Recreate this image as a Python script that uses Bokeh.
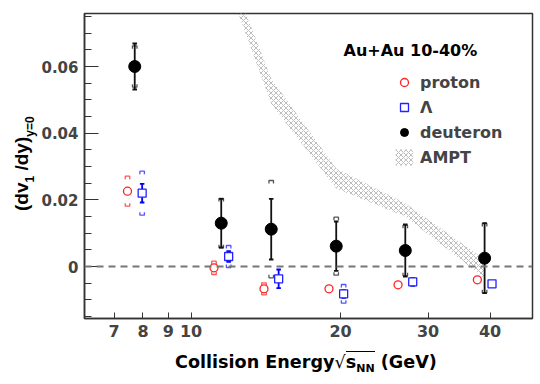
import math
from bokeh.plotting import figure
from bokeh.layouts import row, column
from bokeh.models import Label, Legend, LegendItem, FixedTicker, CustomJSTickFormatter, Span, Div
from bokeh.embed import file_html
from bokeh.resources import INLINE

# ---------------- data ----------------
energies = [7.7, 11.5, 14.5, 19.6, 27.0, 39.0]

deut_v1 = [0.0600, 0.0130, 0.0112, 0.0061, 0.0048, 0.0025]
deut_stat = [0.0069, 0.0073, 0.0091, 0.0074, 0.0078, 0.0105]
deut_sys = [0.0062, 0.0074, 0.0146, 0.0087, 0.0076, 0.0104]

prot_v1 = [0.0226, -0.0004, -0.0067, -0.0067, -0.0055, -0.0040]
prot_stat = [0.0005, 0.0008, 0.0009, 0.0005, 0.0005, 0.0006]
prot_sys = [0.0045, 0.0020, 0.0018, 0.0006, 0.0005, 0.0004]

lam_v1 = [0.0220, 0.0030, -0.0037, -0.0082, -0.0046, -0.0052]
lam_stat = [0.0028, 0.0016, 0.0028, 0.0012, 0.0012, 0.0008]
lam_sys = [0.0066, 0.0033, 0.0010, 0.0028, 0.0010, 0.0008]

ampt_e = [11.5, 14.5, 19.6, 27.0, 39.0]
ampt_hi = [0.0950, 0.0564, 0.0294, 0.0190, 0.0021]
ampt_lo = [0.0900, 0.0488, 0.0234, 0.0150, -0.0035]

x_ticks = [7, 8, 9, 10, 20, 30, 40]
y_ticks = [0.0, 0.02, 0.04, 0.06]

# ---------------- layout ----------------
X0, X1 = 6.1, 48.7
Y0, Y1 = -0.0156, 0.0759
FL, FR, FT, FB = 84, 532, 13, 318   # frame edges in page pixels
WY = 38                              # width of the y-title column
PH = 348                             # plot height

def ex(px):  # page x -> energy (log axis)
    lx0, lx1 = math.log10(X0), math.log10(X1)
    return 10 ** (lx0 + (px - FL) / (FR - FL) * (lx1 - lx0))

def vy(py):  # page y -> value
    return Y0 + (FB - py) / (FB - FT) * (Y1 - Y0)

FONT = "DejaVu Sans"

p = figure(width=FR + 2 - WY, height=PH, x_axis_type="log", x_range=(X0, X1), y_range=(Y0, Y1),
           output_backend="svg", toolbar_location=None, title=None,
           min_border_left=FL - WY, min_border_right=2, min_border_top=FT,
           min_border_bottom=PH - FB)
p.grid.visible = False
p.outline_line_color = "#333333"
p.outline_line_width = 1.5
p.background_fill_color = "white"
p.border_fill_color = "white"

# axes
xa = p.xaxis[0]
xa.ticker = FixedTicker(ticks=x_ticks, minor_ticks=[])
xa.formatter = CustomJSTickFormatter(code="return tick.toFixed(0);")
xa.major_tick_in = 6
xa.major_tick_out = 0
xa.minor_tick_in = 0
xa.minor_tick_out = 0
xa.axis_line_color = "#333333"
xa.axis_line_width = 1.5
xa.major_tick_line_color = "#333333"
xa.major_label_text_font = FONT
xa.major_label_text_font_style = "bold"
xa.major_label_text_font_size = "16px"
xa.major_label_standoff = 6

ya = p.yaxis[0]
ya.ticker = FixedTicker(ticks=y_ticks,
                        minor_ticks=[-0.015, -0.01, -0.005, 0.005, 0.01, 0.015, 0.025, 0.03,
                                     0.035, 0.045, 0.05, 0.055, 0.065, 0.07, 0.075])
ya.formatter = CustomJSTickFormatter(code="return tick == 0 ? '0' : tick.toFixed(2);")
ya.major_tick_in = 14
ya.major_tick_out = 0
ya.minor_tick_in = 7
ya.minor_tick_out = 0
ya.axis_line_color = "#333333"
ya.axis_line_width = 1.5
ya.major_tick_line_color = "#333333"
ya.minor_tick_line_color = "#333333"
ya.major_label_text_font = FONT
ya.major_label_text_font_style = "bold"
ya.major_label_text_font_size = "15px"
ya.major_label_standoff = 6

# AMPT band
r_ampt = p.varea(x=ampt_e, y1=ampt_lo, y2=ampt_hi, fill_color=None, fill_alpha=0,
                 hatch_pattern="diagonal_cross", hatch_color="#a0a0a0", hatch_scale=5,
                 hatch_weight=0.7)

# zero line
p.add_layout(Span(location=0, dimension="width", line_color="#777777", line_width=2,
                  line_dash="7 5"))

CAP = 0.0105
HOOK = 0.0009

def errbars(xs, ys, errs, color, lw):
    p.segment(x0=xs, y0=[y - e for y, e in zip(ys, errs)], x1=xs,
              y1=[y + e for y, e in zip(ys, errs)], line_color=color, line_width=lw)
    for sgn in (1, -1):
        p.segment(x0=[x * (1 - CAP) for x in xs], y0=[y + sgn * e for y, e in zip(ys, errs)],
                  x1=[x * (1 + CAP) for x in xs], y1=[y + sgn * e for y, e in zip(ys, errs)],
                  line_color=color, line_width=lw)

def sysbrackets(xs, ys, errs, color, lw):
    bx, by = [], []
    for x, y, e in zip(xs, ys, errs):
        xl, xr = x * (1 - CAP), x * (1 + CAP)
        bx.append([xl, xl, xr, xr]); by.append([y + e - HOOK, y + e, y + e, y + e - HOOK])
        bx.append([xl, xl, xr, xr]); by.append([y - e + HOOK, y - e, y - e, y - e + HOOK])
    p.multi_line(xs=bx, ys=by, line_color=color, line_width=lw)

prot_x = [e * 0.967 for e in energies]
lam_x = [e * 1.035 for e in energies]

sysbrackets(prot_x, prot_v1, prot_sys, "#ff5555", 1.3)
sysbrackets(lam_x, lam_v1, lam_sys, "#5555ff", 1.3)
sysbrackets(energies, deut_v1, deut_sys, "#555555", 1.3)

errbars(prot_x, prot_v1, prot_stat, "#ee0000", 1.8)
errbars(lam_x, lam_v1, lam_stat, "#0000ee", 1.8)
errbars(energies, deut_v1, deut_stat, "#111111", 1.8)

r_prot = p.scatter(prot_x, prot_v1, marker="circle", size=8, fill_color="white",
                   line_color="#ff2222", line_width=1.3)
r_lam = p.scatter(lam_x, lam_v1, marker="square", size=8, fill_color="white",
                  line_color="#2222ff", line_width=1.3)
r_deut = p.scatter(energies, deut_v1, marker="circle", size=12, fill_color="black",
                   line_color="black")

legend = Legend(items=[LegendItem(label="proton", renderers=[r_prot]),
                       LegendItem(label="Λ", renderers=[r_lam]),
                       LegendItem(label="deuteron", renderers=[r_deut]),
                       LegendItem(label="AMPT", renderers=[r_ampt])],
                location=(393 - FL, FB - 167), orientation="vertical",
                border_line_color=None, background_fill_alpha=0,
                label_text_font=FONT, label_text_font_style="bold",
                label_text_font_size="16px", glyph_width=22, glyph_height=20,
                label_height=20, spacing=5, padding=0, margin=0, label_standoff=5)
p.add_layout(legend)

p.add_layout(Label(x=ex(343), y=vy(50), text="Au+Au 10-40%", text_font=FONT,
                   text_font_style="bold", text_font_size="16px", text_color="black",
                   text_align="left", text_baseline="alphabetic"))

# y-axis title (rotated HTML text, left of the plot)
ytitle = Div(width=WY, height=PH, margin=0, text=(
    f'<div style="position:relative;width:{WY}px;height:{PH}px;">'
    '<div style="position:absolute;left:11.5px;top:211px;transform:rotate(-90deg);'
    "transform-origin:0 0;white-space:nowrap;font-family:'Liberation Sans';"
    'font-weight:bold;font-size:19px;line-height:20px;color:black;">'
    '(dv<span style="font-size:12px;position:relative;top:6px;">1</span> /dy)'
    '<span style="font-size:12px;position:relative;top:6px;">y=0</span></div></div>'))

# x-axis title (HTML text below the plot)
XH = 34
xtitle = Div(width=FR + 2, height=XH, margin=0, text=(
    f'<div style="position:relative;width:{FR + 2}px;height:{XH}px;">'
    '<div style="position:absolute;left:175px;top:4px;white-space:nowrap;'
    "font-family:'DejaVu Sans';font-weight:bold;font-size:17.6px;line-height:20px;color:black;\">"
    'Collision Energy<span style="font-weight:normal;">√</span>'
    '<span style="border-top:1.5px solid black;">s'
    '<span style="font-size:11px;position:relative;top:4px;">NN</span></span> (GeV)'
    '</div></div>'))

layout = column(row(ytitle, p, spacing=0), xtitle, spacing=0)

open("out.html", "w").write(file_html(layout, INLINE))
